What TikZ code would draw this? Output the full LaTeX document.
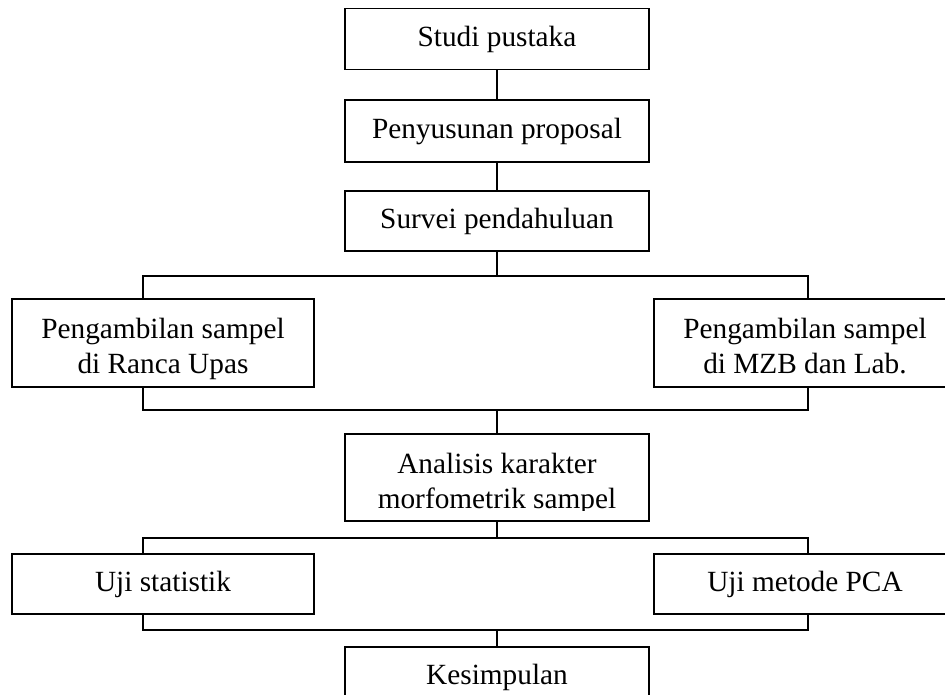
\documentclass[tikz,border=0pt]{standalone}
\usepackage{fontspec}
\setmainfont{Liberation Serif}
\begin{document}
\begin{tikzpicture}[x=1pt,y=-1pt,
  box/.style={draw=black, line width=1.6pt, rectangle, inner sep=0pt, align=center,
    minimum width=304pt, font=\fontsize{29.3}{34.5}\selectfont},
  boxtext/.style={font=\fontsize{29.3}{35}\selectfont, align=center, inner sep=0pt},
  conn/.style={draw=black, line width=1.5pt}]
\useasboundingbox (0,0) rectangle (945,695);
\clip (0,0) rectangle (945,695);
% boxes
\node[box, minimum height=61pt] (studi) at (497,39) {Studi pustaka};
\node[box, minimum height=62pt] (penyusunan) at (497,131) {Penyusunan proposal};
\node[box, minimum height=60pt] (survei) at (497,221) {Survei pendahuluan};
\node[box, minimum width=302pt, minimum height=88pt] (ambil1) at (163,343) {};
\node[boxtext, anchor=base] (ambil1text) at (163,373) {Pengambilan sampel\\di Ranca Upas};
\node[box, minimum width=302pt, minimum height=88pt] (ambil2) at (805,343) {};
\node[boxtext, anchor=base] (ambil2text) at (805,373) {Pengambilan sampel\\di MZB dan Lab.};
\node[box, minimum height=87pt] (analisis) at (497,477.5) {};
\begin{scope}
\clip (345,434) rectangle (649,510);
\node[boxtext, anchor=base] (analisistext) at (497,508) {Analisis karakter\\morfometrik sampel};
\end{scope}
\node[box, minimum width=302pt, minimum height=60pt] (uji1) at (163,584) {Uji statistik};
\node[box, minimum width=302pt, minimum height=60pt] (uji2) at (805,584) {Uji metode PCA};
\node[box, minimum height=60pt] (kesimpulan) at (497,677) {Kesimpulan};
% junction coordinates
\coordinate (aL) at (143,276); \coordinate (aR) at (808,276);
\coordinate (bL) at (143,410); \coordinate (bR) at (808,410);
\coordinate (cL) at (143,538); \coordinate (cR) at (808,538);
\coordinate (dL) at (143,630); \coordinate (dR) at (808,630);
% connectors
\draw[conn] (studi.south) -- (penyusunan.north);
\draw[conn] (penyusunan.south) -- (survei.north);
\draw[conn] (survei.south) -- (survei.south |- aL);
\draw[conn] (ambil1.north -| aL) -- (aL) -- (aR) -- (ambil2.north -| aR);
\draw[conn] (ambil1.south -| bL) -- (bL) -- (bR) -- (ambil2.south -| bR);
\draw[conn] (analisis.north |- bL) -- (analisis.north);
\draw[conn] (analisis.south) -- (analisis.south |- cL);
\draw[conn] (uji1.north -| cL) -- (cL) -- (cR) -- (uji2.north -| cR);
\draw[conn] (uji1.south -| dL) -- (dL) -- (dR) -- (uji2.south -| dR);
\draw[conn] (kesimpulan.north |- dL) -- (kesimpulan.north);
\end{tikzpicture}
\end{document}
